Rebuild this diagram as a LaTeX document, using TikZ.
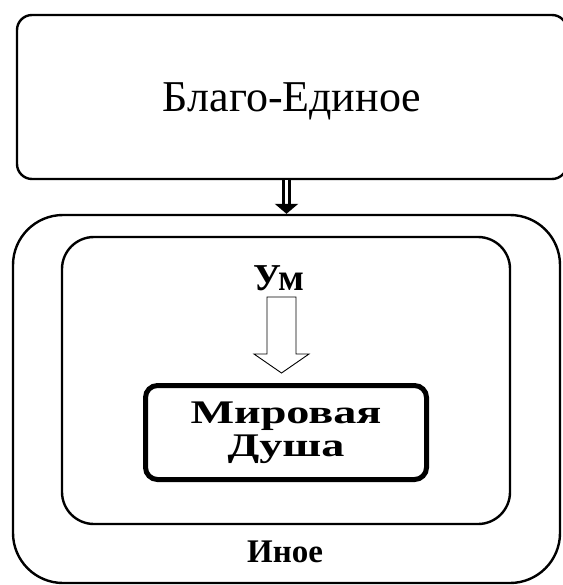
\documentclass[tikz,border=0pt]{standalone}
\usepackage{fontspec}
\setmainfont{Liberation Serif}
\newfontfamily\widefont[FakeStretch=1.4]{Liberation Serif}
\usepackage{tikz}
\usetikzlibrary{calc,arrows.meta}
\definecolor{ink}{HTML}{000000}
\definecolor{paper}{HTML}{FFFFFF}
\tikzset{
  frame/.style={draw=ink, line width=2.4pt, rounded corners=#1, inner sep=0pt},
  heavy/.style={draw=ink, line width=5pt, rounded corners=12pt, inner sep=0pt},
  flow/.style={draw=ink, line width=3pt, double=paper, double distance=3pt,
    -{Triangle[width=23pt,length=10pt]}},
  hollow/.style={draw=ink, line width=0.9pt, fill=paper, line join=miter},
  labb/.style={text=ink, font=\bfseries\fontsize{33}{33}\selectfont}
}
\begin{document}
\begin{tikzpicture}[x=1pt,y=-1pt]
  \useasboundingbox (0,0) rectangle (562,585);

  \node[frame=15pt, minimum width=550, minimum height=164, text depth=0pt,
    font=\fontsize{44}{50}\selectfont] (good) at (292,97) {Благо-Единое};

  \node[frame=50pt, minimum width=547, minimum height=368] (other) at (286.5,399) {};
  \node[frame=32pt, minimum width=448, minimum height=287] (nous) at (286,380.5) {};

  \node[heavy, minimum width=281, minimum height=94, align=center,
    font=\widefont\bfseries\fontsize{33}{33}\selectfont] (soul) at (286,432.5) {Мировая\\Душа};

  \node[labb, font=\bfseries\fontsize{38}{38}\selectfont, anchor=base] (um) at (279,290) {Ум};
  \node[labb, anchor=base] (otherlab) at (285,562) {Иное};

  \draw[flow] (good.south -| other.north) -- (other.north);

  % hollow block arrow
  \coordinate (ta) at (281.5,297);
  \coordinate (tb) at (281.5,373);
  \draw[hollow] ($(ta)+(-14.5,0)$) -- ($(ta)+(14.5,0)$) -- ($(tb)+(14.5,-19)$)
    -- ($(tb)+(27.5,-19)$) -- (tb) -- ($(tb)+(-27.5,-19)$) -- ($(tb)+(-14.5,-19)$) -- cycle;
\end{tikzpicture}
\end{document}
